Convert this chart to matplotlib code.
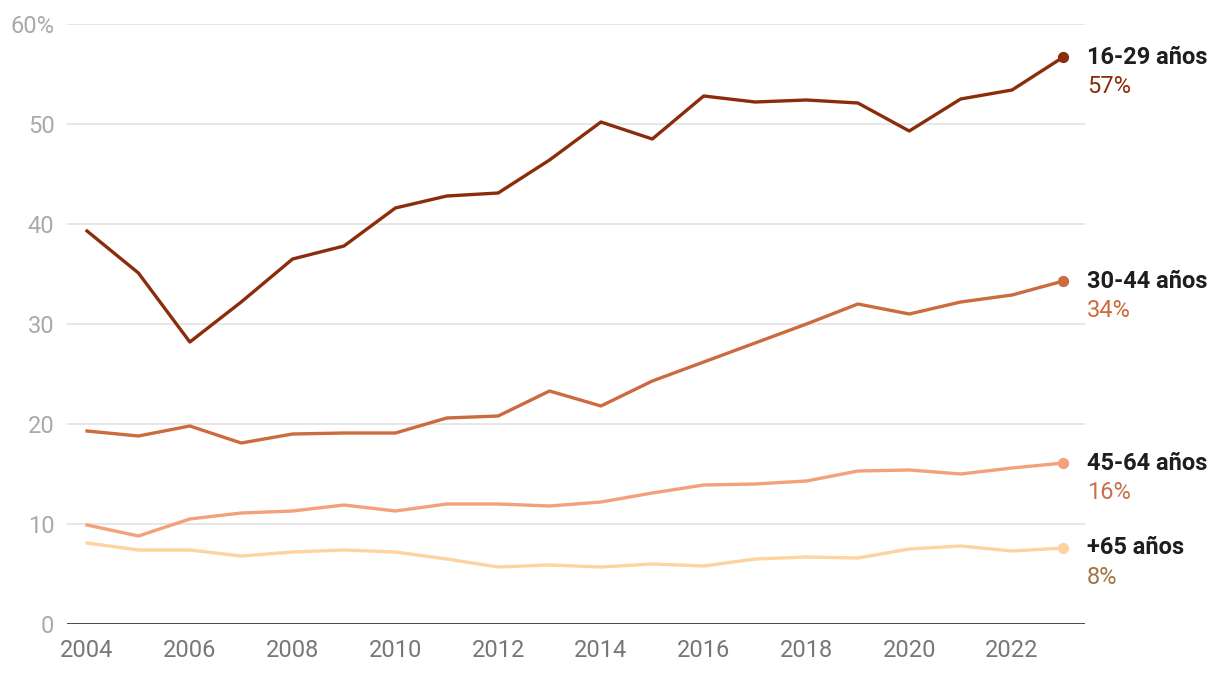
import matplotlib
matplotlib.use("Agg")
import matplotlib.pyplot as plt
import numpy as np

plt.rcParams["font.family"] = ["Roboto", "DejaVu Sans"]

# ── data ────────────────────────────────────────────────────────────────
years = list(range(2004, 2024))

age_16_29 = [39.3, 35.1, 28.2, 32.2, 36.5, 37.8, 41.6, 42.8, 43.1, 46.4,
             50.2, 48.5, 52.8, 52.2, 52.4, 52.1, 49.3, 52.5, 53.4, 56.7]
age_30_44 = [19.3, 18.8, 19.8, 18.1, 19.0, 19.1, 19.1, 20.6, 20.8, 23.3,
             21.8, 24.3, 26.2, 28.1, 30.0, 32.0, 31.0, 32.2, 32.9, 34.3]
age_45_64 = [9.9, 8.8, 10.5, 11.1, 11.3, 11.9, 11.3, 12.0, 12.0, 11.8,
             12.2, 13.1, 13.9, 14.0, 14.3, 15.3, 15.4, 15.0, 15.6, 16.1]
age_65 = [8.1, 7.4, 7.4, 6.8, 7.2, 7.4, 7.2, 6.5, 5.7, 5.9,
          5.7, 6.0, 5.8, 6.5, 6.7, 6.6, 7.5, 7.8, 7.3, 7.6]

series_names = ["16-29 años", "30-44 años", "45-64 años", "+65 años"]
value_labels = ["57%", "34%", "16%", "8%"]

# ── palette ─────────────────────────────────────────────────────────────
LINE_COLORS = ["#8B2D0C", "#CC6A40", "#F4A07A", "#FDD3A0"]
VALUE_COLORS = ["#8B2D0C", "#CC6A40", "#C8714C", "#A07444"]
GRID_COLOR = "#E3E3E3"
FS = 17

fig = plt.figure(figsize=(12.2, 6.74), dpi=100)
ax = fig.add_axes([67 / 1220, 1 - 624 / 674, (1085 - 67) / 1220, 600 / 674])

all_series = [age_16_29, age_30_44, age_45_64, age_65]
for vals, color, name, vlabel, vcolor in zip(
    all_series, LINE_COLORS, series_names, value_labels, VALUE_COLORS
):
    ax.plot(years, vals, color=color, lw=2.4, zorder=3)
    ax.scatter([years[-1]], [vals[-1]], color=color, s=50, zorder=4, clip_on=False)
    ax.annotate(name, xy=(years[-1], vals[-1]), xytext=(17, 0),
                textcoords="offset points", ha="left", va="center",
                fontsize=FS, fontweight="bold", color="#1E1E1E",
                annotation_clip=False)
    ax.annotate(vlabel, xy=(years[-1], vals[-1]), xytext=(17, -21.5),
                textcoords="offset points", ha="left", va="center",
                fontsize=FS, color=vcolor, annotation_clip=False)

ax.set_xlim(2003.61, 2023.42)
ax.set_ylim(0, 60)
ax.set_yticks(range(0, 61, 10))
ax.set_yticklabels(["0", "10", "20", "30", "40", "50", "60%"])
ax.set_xticks(range(2004, 2023, 2))

ax.grid(axis="y", color=GRID_COLOR, lw=1.2, zorder=0)
ax.axhline(0, color="#1A1A1A", lw=1.8, zorder=2)
for side in ["top", "right", "left", "bottom"]:
    ax.spines[side].set_visible(False)

ax.tick_params(axis="y", length=0, pad=9, labelsize=FS, labelcolor="#AAAAAA")
ax.tick_params(axis="x", length=0, pad=11, labelsize=FS, labelcolor="#777777")

fig.savefig("out.png", dpi=100)
